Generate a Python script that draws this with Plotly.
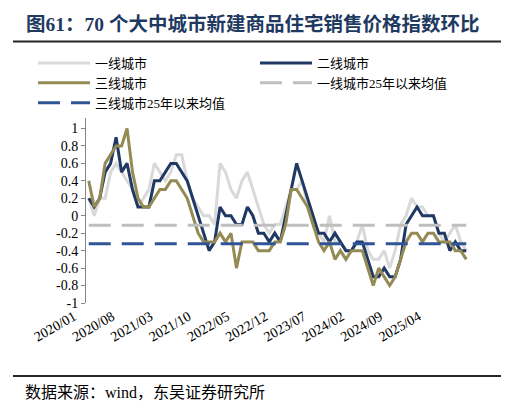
import plotly.graph_objects as go

months = [f"{y}/{m:02d}" for y in range(2020, 2026) for m in range(1, 13)][:70]

tier1 = [0.2, 0.0, 0.2, 0.2, 0.5, 0.6, 0.5, 0.4, 0.3, 0.1, 0.2, 0.3,
         0.6, 0.5, 0.4, 0.5, 0.7, 0.7, 0.4, 0.2, 0.1, 0.0, 0.0, -0.1,
         0.6, 0.5, 0.3, 0.2, 0.4, 0.5, 0.3, 0.1, -0.1, -0.2, -0.1, -0.1,
         0.1, 0.3, 0.3, 0.4, 0.1, -0.1, -0.2, -0.3, 0.0, -0.3, -0.3, -0.4,
         -0.4, -0.3, -0.1, -0.4, -0.5, -0.5, -0.4, -0.6, -0.4, -0.1, 0.0, 0.2,
         0.1, 0.1, 0.0, 0.0, -0.2, -0.3, -0.2, -0.1, -0.3, -0.4]

tier2 = [0.2, 0.1, 0.2, 0.5, 0.6, 0.9, 0.5, 0.6, 0.3, 0.1, 0.1, 0.1,
         0.4, 0.4, 0.5, 0.6, 0.6, 0.5, 0.4, 0.2, 0.0, -0.2, -0.4, -0.3,
         0.1, 0.0, 0.0, -0.1, -0.1, 0.1, 0.0, -0.2, -0.2, -0.3, -0.2, -0.3,
         0.0, 0.3, 0.6, 0.4, 0.2, 0.0, -0.2, -0.2, -0.3, -0.2, -0.3, -0.4,
         -0.4, -0.3, -0.3, -0.5, -0.7, -0.7, -0.6, -0.7, -0.7, -0.5, -0.1, 0.0,
         0.1, 0.0, 0.0, 0.0, -0.2, -0.2, -0.4, -0.3, -0.4, -0.4]

tier3 = [0.4, 0.1, 0.2, 0.6, 0.7, 0.8, 0.8, 1.0, 0.5, 0.2, 0.1, 0.1,
         0.2, 0.3, 0.3, 0.4, 0.4, 0.3, 0.2, 0.0, -0.2, -0.3, -0.3, -0.3,
         -0.2, -0.3, -0.2, -0.6, -0.3, -0.3, -0.3, -0.4, -0.4, -0.4, -0.3, -0.3,
         -0.1, 0.3, 0.3, 0.2, 0.1, -0.1, -0.3, -0.4, -0.3, -0.5, -0.4, -0.5,
         -0.4, -0.4, -0.4, -0.6, -0.8, -0.6, -0.7, -0.8, -0.7, -0.5, -0.3, -0.2,
         -0.2, -0.3, -0.2, -0.2, -0.3, -0.3, -0.3, -0.4, -0.4, -0.5]

avg_tier1_2025 = -0.11
avg_tier3_2025 = -0.32

y_ticks = [-1, -0.8, -0.6, -0.4, -0.2, 0, 0.2, 0.4, 0.6, 0.8, 1]
y_ticktext = ["-1", "-0.8", "-0.6", "-0.4", "-0.2", "0", "0.2", "0.4", "0.6", "0.8", "1"]
x_labels = months[::7]

SERIF = "Liberation Serif, Times New Roman, Noto Sans CJK SC, serif"
AXIS_GRAY = "#868686"

fig = go.Figure()
fig.add_trace(go.Scatter(x=months, y=tier1, mode="lines", name="一线城市",
                         line=dict(color="#d9d9d9", width=3)))
fig.add_trace(go.Scatter(x=months, y=tier2, mode="lines", name="二线城市",
                         line=dict(color="#1f3864", width=3)))
fig.add_trace(go.Scatter(x=months, y=tier3, mode="lines", name="三线城市",
                         line=dict(color="#948a54", width=3)))
fig.add_trace(go.Scatter(x=months, y=[avg_tier1_2025] * len(months), mode="lines",
                         name="一线城市25年以来均值",
                         line=dict(color="#bfbfbf", width=3, dash="22px,11px")))
fig.add_trace(go.Scatter(x=months, y=[avg_tier3_2025] * len(months), mode="lines",
                         name="三线城市25年以来均值",
                         line=dict(color="#2f5597", width=3, dash="22px,11px")))

W, H = 509, 402
ml, mr, mt, mb = 78, 48, 110, 107
pw, ph = W - ml - mr, H - mt - mb
ymin, ymax = -1, 1.12


def px_x(px):
    return (px - ml) / pw


def px_y(py):
    return (H - mb - py) / ph


fig.update_layout(
    width=W, height=H,
    margin=dict(l=ml, r=mr, t=mt, b=mb),
    paper_bgcolor="white", plot_bgcolor="white",
    font=dict(family=SERIF, size=14, color="#000000"),
    title=dict(text="<b>图61：70 个大中城市新建商品住宅销售价格指数环比</b>",
               x=18 / W, xanchor="left", y=1 - 16 / H, yanchor="middle",
               font=dict(size=19.5, color="#1f3a60", family=SERIF)),
    showlegend=True,
    legend=dict(orientation="h", x=px_x(25), xanchor="left", y=px_y(40), yanchor="top",
                entrywidth=155, entrywidthmode="pixels", itemwidth=52,
                font=dict(size=13, family=SERIF), bgcolor="rgba(0,0,0,0)",
                tracegroupgap=0),
    xaxis=dict(type="category", range=[-0.5, len(months) - 0.5],
               tickmode="array", tickvals=x_labels, ticktext=x_labels,
               tickangle=-30, showline=False, showgrid=False, zeroline=False,
               ticks="", ticklabelstandoff=2, ticklabelshift=-15,
               tickfont=dict(size=14, family=SERIF)),
    xaxis2=dict(overlaying="x", anchor="free", position=(0 - ymin) / (ymax - ymin),
                range=[-0.5, len(months) - 0.5], type="linear",
                tickmode="array", tickvals=[i - 0.5 for i in range(len(months) + 1)],
                ticks="inside", ticklen=4, tickcolor=AXIS_GRAY, tickwidth=1,
                showline=True, linecolor=AXIS_GRAY, linewidth=1,
                showticklabels=False, showgrid=False, zeroline=False),
    yaxis=dict(range=[ymin, ymax], tickmode="array", tickvals=y_ticks, ticktext=y_ticktext,
               showline=True, linecolor=AXIS_GRAY, linewidth=1,
               ticks="outside", ticklen=4, tickcolor=AXIS_GRAY,
               showgrid=False, zeroline=False, tickfont=dict(size=14, family=SERIF)),
    shapes=[
        dict(type="line", xref="paper", yref="paper", x0=px_x(5), x1=px_x(503),
             y0=px_y(33.5), y1=px_y(33.5), line=dict(color="#262626", width=2)),
        dict(type="line", xref="paper", yref="paper", x0=px_x(5), x1=px_x(503),
             y0=px_y(368), y1=px_y(368), line=dict(color="#262626", width=2)),
    ],
    annotations=[
        dict(text="数据来源：wind，东吴证券研究所", xref="paper", yref="paper",
             x=px_x(15), y=px_y(384), xanchor="left", yanchor="middle", showarrow=False,
             font=dict(size=16, family=SERIF, color="#000000")),
    ],
)

fig.write_html("out.html")
